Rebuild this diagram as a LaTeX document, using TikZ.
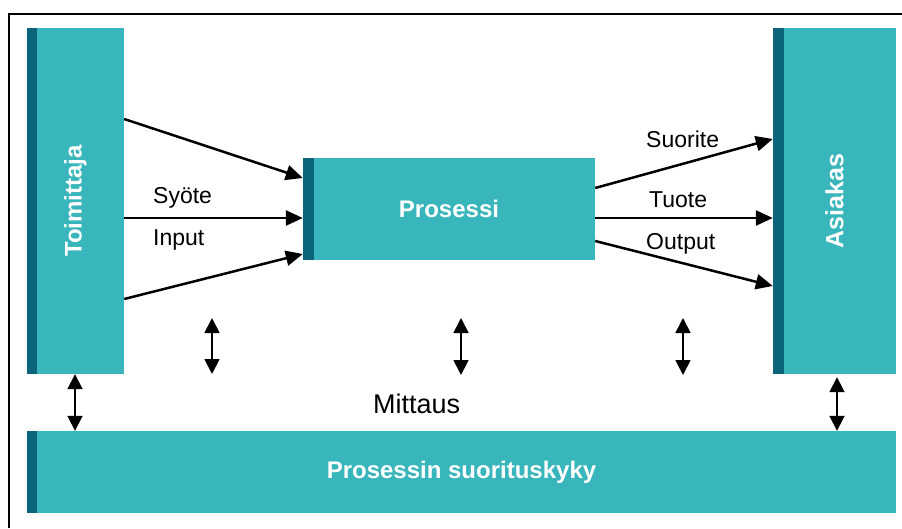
\documentclass[tikz,border=0pt]{standalone}
\usepackage{fontspec}
\setmainfont{Liberation Sans}
\usetikzlibrary{arrows.meta,calc}
\definecolor{tealbox}{RGB}{56,182,187}
\definecolor{tealdark}{RGB}{12,100,122}
\begin{document}
\begin{tikzpicture}[x=1pt,y=-1pt,
  block/.style={fill=tealbox, inner sep=0pt, text=white,
    font=\bfseries\fontsize{24}{28}\selectfont},
  tag/.style={inner sep=0pt, anchor=base west, font=\fontsize{23}{27}\selectfont},
  flow/.style={-{Triangle[length=17pt,width=15pt]}, line width=2.5pt},
  measure/.style={{Triangle[length=15pt,width=15pt]}-{Triangle[length=15pt,width=15pt]}, line width=1.8pt}]
\useasboundingbox (0,0) rectangle (902,528);
\fill[white] (0,0) rectangle (902,528);
% outer frame (open at right and bottom)
\draw[line width=2pt] (9,528) -- (9,14) -- (902,14);

% blocks
\node[block, minimum width=97pt, minimum height=346pt] (toim) at (75.5,201) {};
\node[block, minimum width=123pt, minimum height=346pt] (asiak) at (834.5,201) {};
\node[block, minimum width=292pt, minimum height=102pt] (pros) at (449,209) {};
\node[block, minimum width=869pt, minimum height=82pt] (suor) at (461.5,472) {};

% dark edge stripes
\fill[tealdark] (toim.north west) rectangle ($(toim.south west)+(10,0)$);
\fill[tealdark] (asiak.north west) rectangle ($(asiak.south west)+(11,0)$);
\fill[tealdark] (pros.north west) rectangle ($(pros.south west)+(11,0)$);
\fill[tealdark] (suor.north west) rectangle ($(suor.south west)+(10,0)$);

% block titles
\node[block, fill=none, rotate=90] (toimT) at (toim.center) {Toimittaja};
\node[block, fill=none, rotate=90, font=\bfseries\fontsize{25}{29}\selectfont] (asiakT) at (asiak.center) {Asiakas};
\node[block, fill=none] (prosT) at (pros.center) {Prosessi};
\node[block, fill=none] (suorT) at (suor.center) {Prosessin suorituskyky};

% row heights for the flows
\coordinate (a1) at (0,119);
\coordinate (a2) at (0,218);
\coordinate (a3) at (0,299);
\coordinate (b1) at (0,178);
\coordinate (b3) at (0,254);
\coordinate (c1) at (0,188);
\coordinate (c3) at (0,241);
\coordinate (d1) at (0,139);
\coordinate (d3) at (0,286);

% inputs
\draw[flow] (toim.east |- a1) -- (pros.west |- b1);
\draw[flow] (toim.east |- a2) -- (pros.west |- a2);
\draw[flow] (toim.east |- a3) -- (pros.west |- b3);
% outputs
\draw[flow] (pros.east |- c1) -- (asiak.west |- d1);
\draw[flow] (pros.east |- a2) -- (asiak.west |- a2);
\draw[flow] (pros.east |- c3) -- (asiak.west |- d3);

% flow labels
\node[tag] (syote) at (153,203) {Syöte};
\node[tag] (input) at (153,245) {Input};
\node[tag] (suorite) at (646,147) {Suorite};
\node[tag] (tuote) at (649,207) {Tuote};
\node[tag] (output) at (646,249) {Output};

% measurement arrows
\coordinate (m1t) at (212,318);
\coordinate (m1b) at (212,374);
\coordinate (m2t) at (461,318);
\coordinate (m2b) at (461,375);
\coordinate (m3t) at (683,318);
\coordinate (m3b) at (683,375);
\draw[measure] (m1t) -- (m1b);
\draw[measure] (m2t) -- (m2b);
\draw[measure] (m3t) -- (m3b);
\draw[measure] (toim.south -| 75,0) -- (suor.north -| 75,0);
\draw[measure] ($(asiak.south)+(2.5,3)$) -- (suor.north -| 837,0);

\node[tag, font=\fontsize{27}{31}\selectfont] (mitt) at (373,413) {Mittaus};
\end{tikzpicture}
\end{document}
